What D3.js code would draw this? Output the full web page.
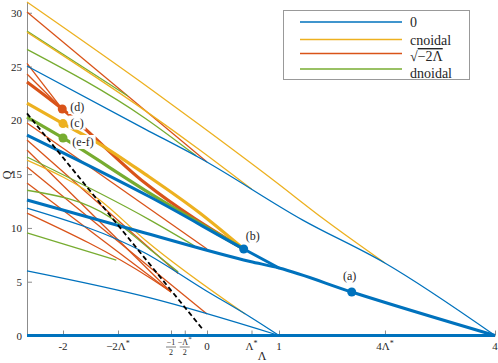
<!DOCTYPE html>
<meta charset="utf-8">
<title>Q versus Lambda branches</title>
<style>
  body { margin: 0; background: #fff; }
  text { font-family: "Liberation Serif", "DejaVu Serif", serif; fill: #262626; }
</style>
<body>
<div id="container"></div>
<script src="https://cdn.jsdelivr.net/npm/d3@7/dist/d3.min.js"></script>
<script>
const LSTAR = 0.618;

// branches as [Λ, Q] points
const zeroBranches = [
  [[-2.5, 25.05], [-0.86, 19.19], [-0.1, 16.5], [1.33, 10.73], [2.47, 6.74], [4, 0]],
  [[-2.5, 6.0], [-0.79, 3.49], [1, 0]],
  [[-2.5, 11.85], [-0.86, 7.67], [-0.03, 4.23], [0.6, 1.72], [1, 0]]
];
const zeroBold = [
  [[-2.5, 0], [4, 0]],
  [[-2.5, 12.6], [-0.86, 9.53], [0.6, 6.88], [1, 6.27], [2.01, 4.04], [4, 0]],
  [[-2.5, 18.63], [-0.79, 12.87], [0.51, 8.04], [1, 6.27]]
];
const cnoidal = [
  [[-2.5, 31.0], [-0.76, 22.8], [-0.1, 19.56], [0.92, 14.45], [1.64, 10.73], [2.47, 6.74]],
  [[-2.5, 28.2], [-0.86, 20.9], [-0.1, 17.24], [0.62, 13.6]],
  [[-2.5, 16.3], [-1.49, 12.6], [-0.86, 8.88], [0.53, 2.0]]
];
const cnoidalBold = [
  [[-2.5, 21.6], [-2.0, 19.7], [-1.49, 17.8], [-0.86, 15.0], [-0.1, 11.38], [0.51, 8.04]]
];
const constant = [
  [[-2.5, 30.07], [0, 16.12]],
  [[-2.5, 25.3], [-2.01, 21.05]],
  [[-2.5, 24.3], [-2.01, 21.05]],
  [[-2.5, 19.75], [0, 8.04]],
  [[-2.5, 18.17], [-0.4, 5.76]],
  [[-2.5, 17.24], [-0.5, 4.04]],
  [[-2.5, 15.66], [0, 2.0]],
  [[-2.5, 14.17], [-0.5, 4.04]],
  [[-2.5, 11.38], [-0.79, 5.34], [-0.5, 4.04]]
];
const constantBold = [
  [[-2.5, 23.56], [-2.01, 21.05], [-0.86, 14.17], [0.51, 8.04]]
];
const dnoidal = [
  [[-2.5, 28.3], [-1.1, 22.26]],
  [[-2.5, 26.6], [-0.86, 20.2], [-0.15, 16.7]],
  [[-2.5, 16.59], [-0.79, 10.73], [-0.17, 8.32]],
  [[-2.5, 13.5], [-1.35, 11.0], [-0.79, 8.0], [-0.4, 5.9]],
  [[-2.5, 9.53], [-1.26, 7.0]]
];
const dnoidalBold = [
  [[-2.5, 20.3], [-2.0, 18.36], [-0.86, 13.5], [0.51, 8.04]]
];
const threshold = [[-2.5, 20.65], [-0.05, 0.5]];

const markerNames = ["(a)", "(b)", "(c)", "(d)", "(e-f)"];
const markerPoints = [[2.01, 4.04], [0.51, 8.04], [-2.0, 19.7], [-2.01, 21.05], [-2.0, 18.36]];
const markerKinds = ["zero", "zero", "cnoidal", "constant", "dnoidal"];

const yTicks = [0, 5, 10, 15, 20, 25, 30];
const xTicks = [-2, -2 * LSTAR, -0.5, -LSTAR / 2, 0, LSTAR, 1, 4 * LSTAR, 4];
const xTickLabels = ["-2", "−2Λ*", "−1/2", "−Λ*/2", "0", "Λ*", "1", "4Λ*", "4"];

const legendKeys = ["zero", "cnoidal", "constant", "dnoidal"];
const legendLabels = ["0", "cnoidal", "√−2Λ", "dnoidal"];

const colors = {zero: "#0072BD", cnoidal: "#EDB120", constant: "#D95319", dnoidal: "#77AC30"};

const width = 498, height = 363;
const svg = d3.select("#container").append("svg")
  .attr("width", width).attr("height", height);

const x = d3.scaleLinear().domain([-2.5, 4]).range([27, 495]);
const y = d3.scaleLinear().domain([0, 31]).range([335.5, 2]);

const line = d3.line().x(d => x(d[0])).y(d => y(d[1])).curve(d3.curveMonotoneX);

// axes
const yAxis = svg.append("g").attr("transform", "translate(27,0)")
  .call(d3.axisLeft(y).tickValues(yTicks).tickSizeInner(-5).tickSizeOuter(0).tickPadding(5));
const xAxis = svg.append("g").attr("transform", "translate(0,335.5)")
  .call(d3.axisBottom(x).tickValues(xTicks).tickFormat(() => "").tickSizeInner(-5).tickSizeOuter(0));
[yAxis, xAxis].forEach(g => {
  g.select(".domain").attr("stroke", "#8c8c8c").attr("stroke-width", 1);
  g.selectAll(".tick line").attr("stroke", "#8c8c8c");
  g.selectAll("text").attr("font-size", 11).attr("fill", "#262626");
});

function addStar(t, s, small) {
  const parts = s.split("*");
  t.append("tspan").text(parts[0]);
  if (parts.length > 1) {
    t.append("tspan").attr("font-size", small).attr("dy", -4).text("*");
  }
}

// x tick labels, some of them fractions
xTicks.forEach((v, i) => {
  const lab = xTickLabels[i];
  const cx = x(v);
  if (lab.includes("/")) {
    const [num, den] = lab.split("/");
    const t = svg.append("text").attr("x", cx).attr("y", 345).attr("text-anchor", "middle").attr("font-size", 8);
    addStar(t, num, 7);
    svg.append("line").attr("x1", cx - 5).attr("x2", cx + 5).attr("y1", 347).attr("y2", 347)
      .attr("stroke", "#262626").attr("stroke-width", 0.6);
    svg.append("text").attr("x", cx).attr("y", 354.5).attr("text-anchor", "middle").attr("font-size", 8).text(den);
  } else {
    const t = svg.append("text").attr("x", cx).attr("y", 350).attr("text-anchor", "middle").attr("font-size", 11);
    addStar(t, lab, 8);
  }
});

svg.append("text").attr("x", 262).attr("y", 360).attr("text-anchor", "middle").attr("font-size", 12).text("Λ");
svg.append("text").attr("transform", "translate(11,175) rotate(-90)").attr("text-anchor", "middle")
  .attr("font-size", 12).text("Q");

// curves
function drawSet(data, kind, w) {
  svg.append("g").selectAll("path").data(data).join("path")
    .attr("d", line).attr("fill", "none")
    .attr("stroke", colors[kind]).attr("stroke-width", w)
    .attr("stroke-linejoin", "round");
}
drawSet(constant, "constant", 1.3);
drawSet(dnoidal, "dnoidal", 1.3);
drawSet(cnoidal, "cnoidal", 1.3);
drawSet(zeroBranches, "zero", 1.3);
drawSet(constantBold, "constant", 3.2);
drawSet(cnoidalBold, "cnoidal", 3.2);
drawSet(dnoidalBold, "dnoidal", 3.2);
drawSet(zeroBold, "zero", 3);

svg.append("path").attr("d", d3.line().x(d => x(d[0])).y(d => y(d[1]))(threshold))
  .attr("fill", "none").attr("stroke", "#000").attr("stroke-width", 1.8).attr("stroke-dasharray", "5,3");

// marked solutions
const labelOffsets = [[-2, -12], [9, -9], [14, 3], [15, 2], [20, 8]];
markerPoints.forEach((p, i) => {
  const px = x(p[0]), py = y(p[1]);
  svg.append("circle").attr("cx", px).attr("cy", py).attr("r", 4.5).attr("fill", colors[markerKinds[i]]);
  const t = svg.append("text").attr("x", px + labelOffsets[i][0]).attr("y", py + labelOffsets[i][1])
    .attr("text-anchor", "middle").attr("font-size", 12).text(markerNames[i]);
  if (i >= 2) {
    const b = t.node().getBBox();
    svg.insert("rect", () => t.node()).attr("x", b.x - 2).attr("y", b.y)
      .attr("width", b.width + 4).attr("height", b.height).attr("fill", "#fff");
  }
});

// legend
const lg = svg.append("g");
lg.append("rect").attr("x", 283.5).attr("y", 10.5).attr("width", 186).attr("height", 69)
  .attr("fill", "#fff").attr("stroke", "#999").attr("stroke-width", 1);
const rowY = [22, 39.5, 53.5, 69];
const textY = [27, 45, 61, 77.5];
legendKeys.forEach((k, i) => {
  lg.append("line").attr("x1", 300).attr("x2", 402).attr("y1", rowY[i]).attr("y2", rowY[i])
    .attr("stroke", colors[k]).attr("stroke-width", 1.6);
  const t = lg.append("text").attr("x", 410).attr("y", textY[i]).attr("font-size", 14);
  if (legendLabels[i].startsWith("√")) {
    t.append("tspan").text("√");
    t.append("tspan").attr("text-decoration", "overline").text(legendLabels[i].slice(1));
  } else {
    t.text(legendLabels[i]);
  }
});
</script>
</body>
